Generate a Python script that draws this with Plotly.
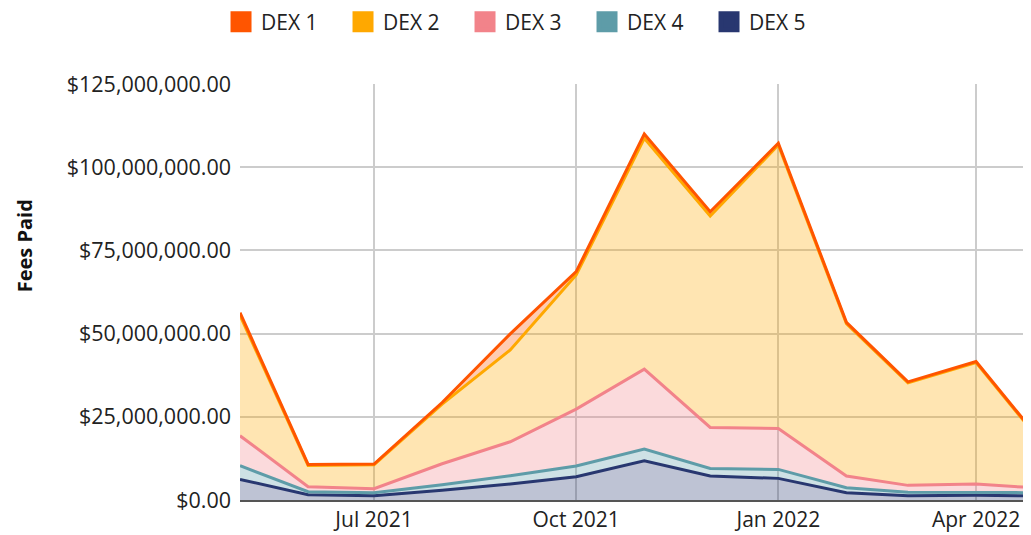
import plotly.graph_objects as go

months = ["2021-05-01", "2021-06-01", "2021-07-01", "2021-08-01", "2021-09-01",
          "2021-10-01", "2021-11-01", "2021-12-01", "2022-01-01", "2022-02-01",
          "2022-03-01", "2022-04-01", "2022-05-01"]

dex1 = [0.8, 0.3, 0.2, 0.5, 4.8, 1.0, 1.3, 1.3, 0.5, 0.4, 0.3, 0.3, 0.3]
dex2 = [36.2, 6.4, 7.2, 17.9, 27.6, 40.3, 69.4, 63.5, 85.2, 45.8, 30.8, 36.5, 13.6]
dex3 = [9.0, 1.5, 1.2, 6.3, 10.2, 17.1, 24.0, 12.3, 12.3, 3.5, 2.1, 2.5, 1.3]
dex4 = [4.1, 0.9, 0.9, 1.7, 2.5, 3.2, 3.5, 2.3, 2.7, 1.5, 1.0, 0.9, 1.0]
dex5 = [6.2, 1.6, 1.3, 2.9, 4.8, 7.0, 11.8, 7.2, 6.5, 2.2, 1.3, 1.4, 1.2]

names = ["DEX 1", "DEX 2", "DEX 3", "DEX 4", "DEX 5"]
series = [dex1, dex2, dex3, dex4, dex5]
colors = ["#FF5500", "#FFA800", "#F2838A", "#5E9CA8", "#283770"]
fills = ["rgba(255,85,0,0.3)", "rgba(255,168,0,0.3)", "rgba(242,131,138,0.3)",
         "rgba(94,156,168,0.3)", "rgba(40,55,112,0.3)"]

FONT = "Open Sans"
fig = go.Figure()

# stacked areas: bottom (DEX 5) first
for i in reversed(range(5)):
    fig.add_trace(go.Scatter(
        x=months, y=[v * 1e6 for v in series[i]], name=names[i],
        mode="lines", stackgroup="one",
        line=dict(color=colors[i], width=3),
        fillcolor=fills[i], showlegend=False,
    ))

# legend entries (square swatches)
for i in range(5):
    fig.add_trace(go.Scatter(
        x=[None], y=[None], name=names[i], mode="markers",
        marker=dict(symbol="square", size=16, color=colors[i],
                    line=dict(color=colors[i], width=5)),
        showlegend=True,
    ))

# the page body adds an 8px offset; size the figure to fill the rest of the window
fig.update_layout(
    width=1023, height=527,
    margin=dict(l=232, r=0, t=76, b=35, autoexpand=False),
    paper_bgcolor="white", plot_bgcolor="white",
    font=dict(family=FONT, size=21, color="#222"),
    legend=dict(orientation="h", x=-0.024, xanchor="left",
                y=1.149, yanchor="middle", traceorder="normal",
                font=dict(family=FONT, size=21, color="#222"),
                entrywidth=77, entrywidthmode="pixels",
                itemsizing="trace", itemclick=False),
    xaxis=dict(type="date", range=["2021-05-01", "2022-04-26"],
               dtick="M3", tick0="2021-01-01", tickformat="%b %Y",
               showgrid=True, gridcolor="#cccccc", gridwidth=1.5,
               showline=True, linecolor="#555555", linewidth=2,
               ticks="", tickfont=dict(family=FONT, size=21, color="#222")),
    yaxis=dict(range=[0, 125e6], dtick=25e6, tickformat="$,.2f",
               showgrid=True, gridcolor="#cccccc", gridwidth=1.5,
               zeroline=False, ticks="", ticklabelstandoff=8,
               tickfont=dict(family=FONT, size=21.5, color="#222")),
    annotations=[dict(text="<b>Fees Paid</b>", textangle=-90,
                      xref="paper", yref="paper",
                      x=-0.273, y=0.61, xanchor="center", yanchor="middle",
                      showarrow=False,
                      font=dict(family=FONT, size=20, color="#111"))],
)

fig.write_html("out.html")
